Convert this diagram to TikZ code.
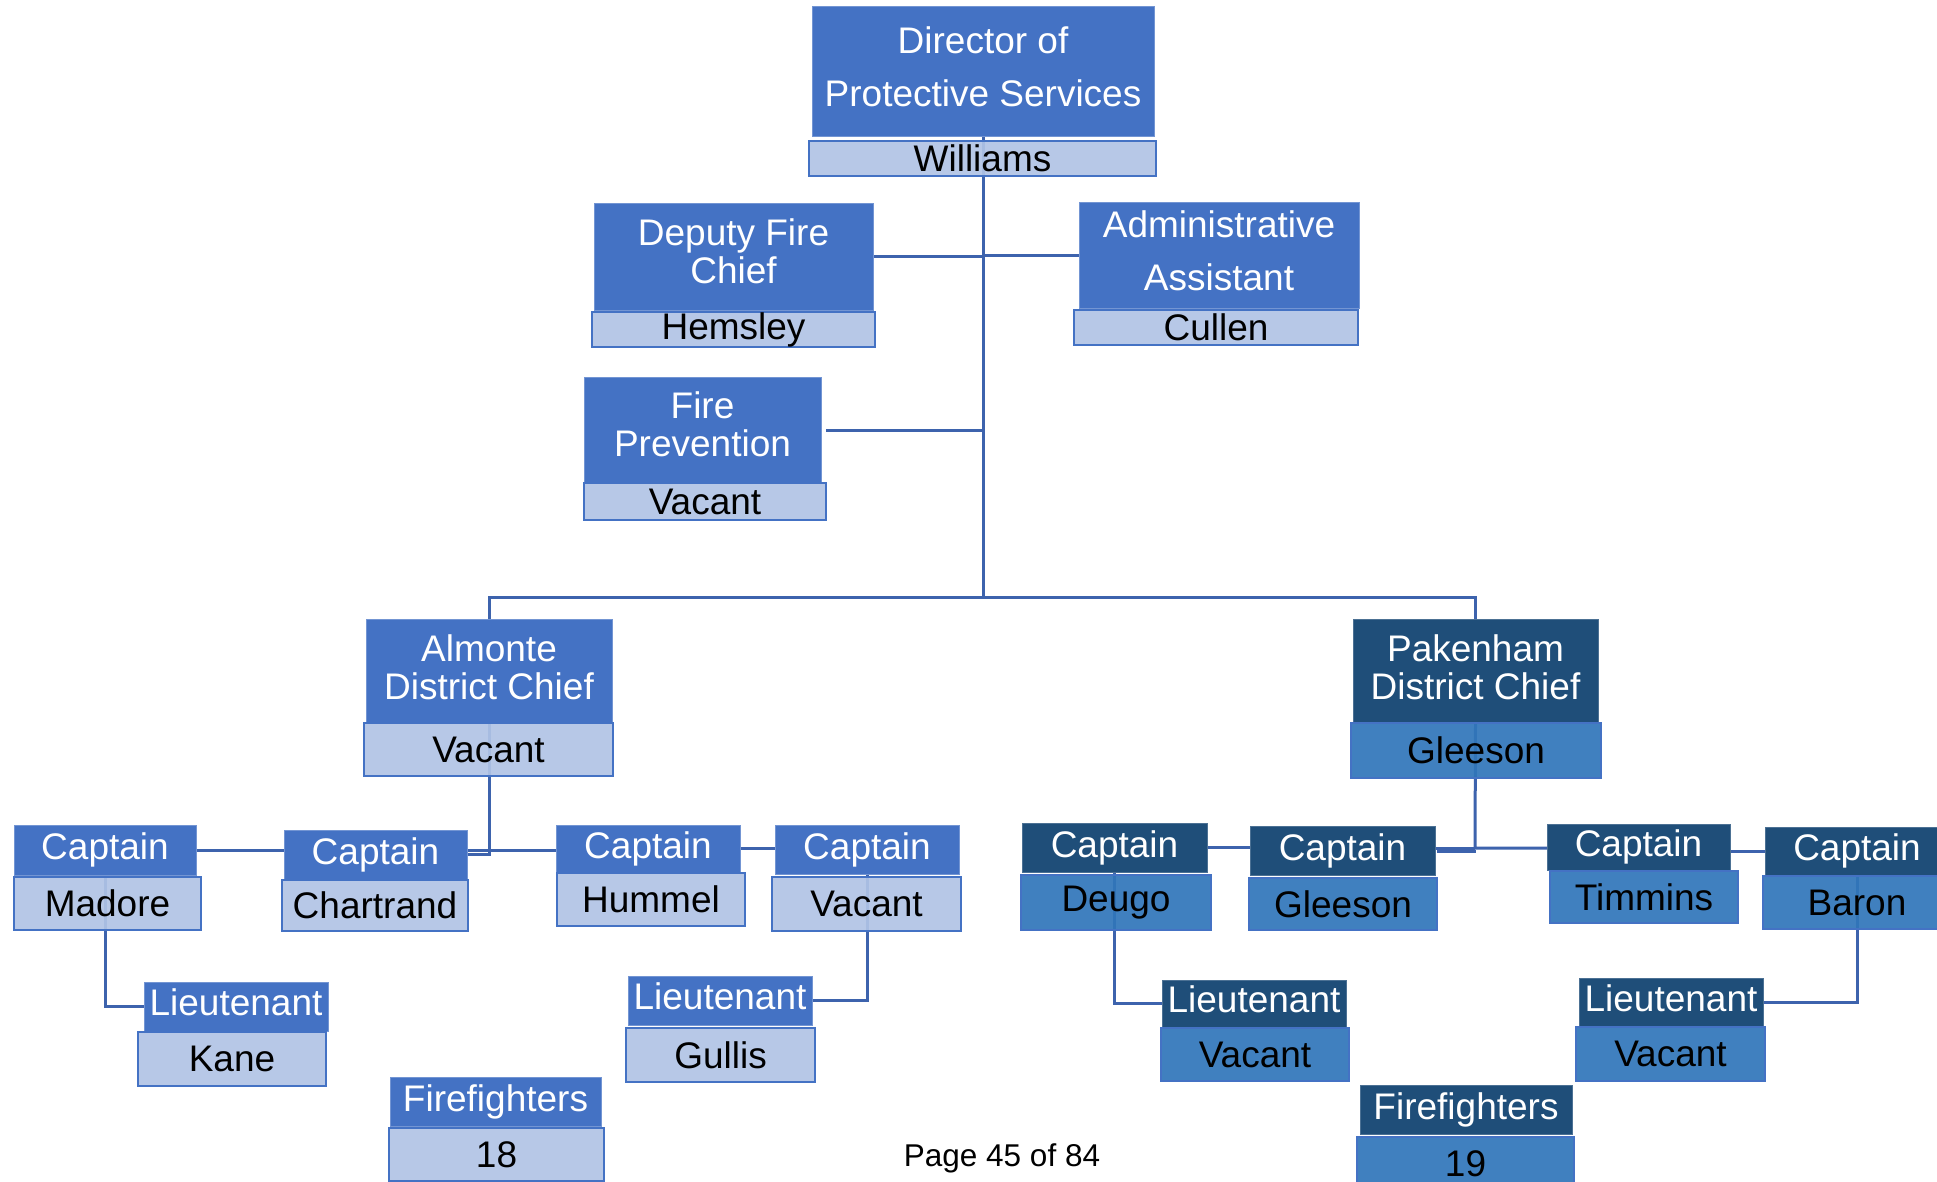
\documentclass[tikz,border=0pt]{standalone}
\usepackage{fontspec}
\setmainfont{Liberation Sans}
\usetikzlibrary{backgrounds}
\definecolor{tblue}{HTML}{4472C4}
\definecolor{nlight}{HTML}{B1C4E6}
\definecolor{tdark}{HTML}{1F4E79}
\definecolor{nmid}{HTML}{3076BA}
\definecolor{lnk}{HTML}{3D63AD}
\tikzset{
  base/.style={inner sep=0pt, outer sep=0pt, align=center, font=\fontsize{37}{38}\selectfont},
  tA/.style={base, fill=tblue, draw=tblue!75!white, line width=1pt, text=white},
  nA/.style={base, fill=nlight, fill opacity=0.92, text opacity=1, draw=tblue, line width=2.5pt, text=black},
  tB/.style={base, fill=tdark, draw=tdark!80!white, line width=1pt, text=white},
  nB/.style={base, fill=nmid, fill opacity=0.92, text opacity=1, draw=tblue, line width=2.5pt, text=black},
  sz/.style 2 args={minimum width=#1pt, minimum height=#2pt},
  link/.style={draw=lnk, line width=3pt},
  wide/.style={font=\fontsize{37}{53}\selectfont},
  lt/.style={text depth=8pt},
}
\begin{document}
\begin{tikzpicture}[x=1pt,y=-1pt]
\useasboundingbox (0,0) rectangle (1937,1182);
\clip (0,0) rectangle (1937,1182);

% top
\node[tA, wide, text depth=10pt, sz={342}{130}] (dirT) at (983,72) {Director of\\Protective Services};
\node[nA, sz={347}{35}] (dirN) at (982.5,158.5) {Williams};
\node[tA, text depth=12pt, sz={279}{106}] (depT) at (733.5,257) {Deputy Fire\\Chief};
\node[nA, sz={283}{35}] (depN) at (733.5,329.5) {Hemsley};
\node[tA, wide, text depth=10pt, sz={280}{105}] (admT) at (1219,255.5) {Administrative\\Assistant};
\node[nA, sz={284}{35}] (admN) at (1216,327.5) {Cullen};
\node[tA, text depth=12pt, sz={237}{106}] (fpT) at (702.5,430) {Fire\\Prevention};
\node[nA, sz={242}{37}] (fpN) at (705,501.5) {Vacant};

% districts
\node[tA, text depth=8pt, sz={246}{104}] (almT) at (489,671) {Almonte\\District Chief};
\node[nA, sz={249}{53}] (almN) at (488.5,749.5) {Vacant};
\node[tB, text depth=8pt, sz={245}{104}] (pakT) at (1475.5,671) {Pakenham\\District Chief};
\node[nB, sz={250}{55}] (pakN) at (1476,750.5) {Gleeson};

% Almonte captains
\node[tA, sz={182}{50}] (madT) at (105,850) {Captain};
\node[nA, sz={187}{53}] (madN) at (107.5,903.5) {Madore};
\node[tA, sz={183}{50}] (chaT) at (375.5,855) {Captain};
\node[nA, sz={186}{51}] (chaN) at (375,905.5) {Chartrand};
\node[tA, sz={184}{47}] (humT) at (648,848.5) {Captain};
\node[nA, sz={188}{53}] (humN) at (651,899.5) {Hummel};
\node[tA, sz={184}{49}] (vacT) at (867,849.5) {Captain};
\node[nA, sz={189}{54}] (vacN) at (866.5,904) {Vacant};
\node[tA, lt, sz={184}{49}] (kanT) at (236,1006.5) {Lieutenant};
\node[nA, sz={188}{54}] (kanN) at (232,1059) {Kane};
\node[tA, lt, sz={184}{49}] (gulT) at (720,1000.5) {Lieutenant};
\node[nA, sz={189}{54}] (gulN) at (720.5,1055) {Gullis};
\node[tA, sz={211}{49}] (ffaT) at (495.5,1101.5) {Firefighters};
\node[nA, sz={215}{53}] (ffaN) at (496.5,1154.5) {18};

% Pakenham captains
\node[tB, sz={185}{49}] (deuT) at (1114.5,847.5) {Captain};
\node[nB, sz={190}{55}] (deuN) at (1116,902.5) {Deugo};
\node[tB, sz={185}{49}] (gleT) at (1342.5,850.5) {Captain};
\node[nB, sz={188}{52}] (gleN) at (1343,904) {Gleeson};
\node[tB, sz={183}{46}] (timT) at (1638.5,847) {Captain};
\node[nB, sz={188}{52}] (timN) at (1644,897) {Timmins};
\node[tB, sz={184}{48}] (barT) at (1857,851) {Captain};
\node[nB, sz={188}{53}] (barN) at (1857,902.5) {Baron};
\node[tB, lt, sz={184}{47}] (ltdT) at (1254,1003.5) {Lieutenant};
\node[nB, sz={188}{53}] (ltdN) at (1255,1054.5) {Vacant};
\node[tB, lt, sz={184}{49}] (ltbT) at (1671,1002.5) {Lieutenant};
\node[nB, sz={189}{54}] (ltbN) at (1670.5,1054) {Vacant};
\node[tB, sz={212}{49}] (ffbT) at (1466,1109.5) {Firefighters};
\node[nB, sz={217}{53}] (ffbN) at (1465.5,1163.5) {19};

\node[inner sep=0pt, font=\fontsize{31.5}{33}\selectfont] (page) at (1002,1158) {Page 45 of 84};

% junctions
\coordinate (j0) at (983,597);
\coordinate (jA) at (489,854);
\coordinate (jA2) at (467,850);
\coordinate (jP) at (1475,848);
\coordinate (jP2) at (1437,851);

\begin{scope}[on background layer]
\fill[white] (0,0) rectangle (1937,1182);
\draw[link] (dirT.south) -- (j0);
\draw[link] (depT.east) -- (depT.east -| dirT.south);
\draw[link] (admT.west) -- (admT.west -| dirT.south);
\draw[link] (fpN.north east |- fpT.east) -- (fpT.east -| dirT.south);
\draw[link] (almT.north) -- (almT.north |- j0) -- (pakT.north |- j0) -- (pakT.north);
% Almonte
\draw[link] (almT.south) -- (jA) -- (jA -| chaT.east);
\draw[link] (jA2) -- (jA2 -| humT.west);
\draw[link] (madT.east |- jA2) -- (jA2 -| chaT.west);
\draw[link] (humT.east) -- (humT.east -| vacT.west);
\draw[link] (madT.south) -- (madT.south |- kanT.west) -- (kanT.west);
\draw[link] (vacT.south) -- (vacT.south |- gulT.east) -- (gulT.east);
% Pakenham
\draw[link] (pakT.south) -- (jP) -- (jP -| timT.west);
\draw[link] (jP) -- (jP -| gleT.east);
\draw[link] (jP2) -- (jP2 -| pakT.south);
\draw[link] (deuT.east) -- (deuT.east -| gleT.west);
\draw[link] (timT.east |- barT.west) -- (barT.west);
\draw[link] (deuT.south) -- (deuT.south |- ltdT.west) -- (ltdT.west);
\draw[link] (barT.south) -- (barT.south |- ltbT.east) -- (ltbT.east);
\end{scope}
\end{tikzpicture}
\end{document}
